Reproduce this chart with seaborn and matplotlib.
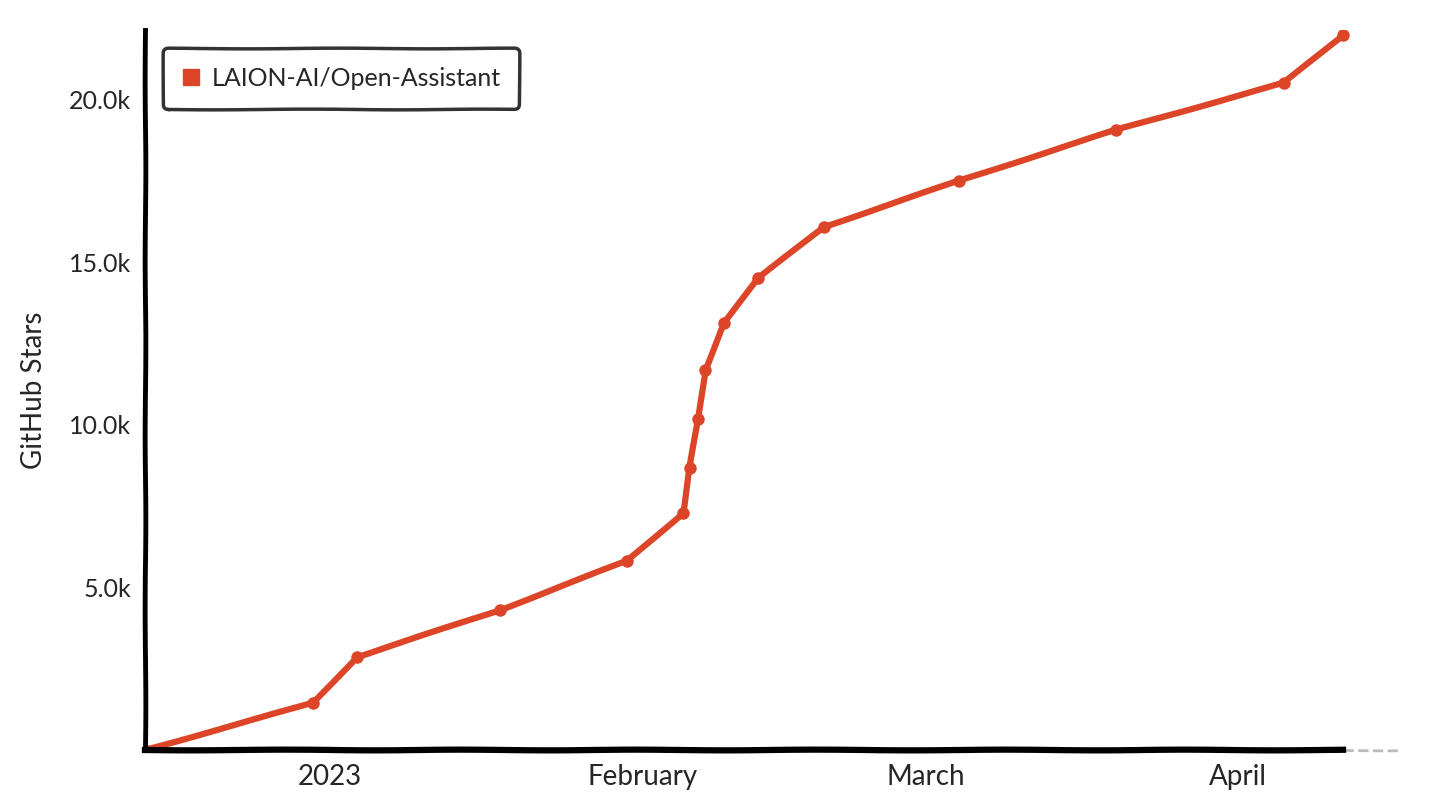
import pandas as pd
import matplotlib.pyplot as plt
import matplotlib.dates as mdates
from matplotlib.lines import Line2D
from matplotlib.ticker import FuncFormatter
import seaborn as sns

# Data
repo = 'LAION-AI/Open-Assistant'
dates = ['2022-12-13 16:00', '2022-12-30 08:00', '2023-01-03 16:00', '2023-01-17 21:00',
         '2023-01-30 10:00', '2023-02-05 00:00', '2023-02-05 15:00', '2023-02-06 12:00',
         '2023-02-07 05:00', '2023-02-09 00:00', '2023-02-12 11:00', '2023-02-18 22:00',
         '2023-03-04 07:00', '2023-03-19 22:00', '2023-04-05 12:00', '2023-04-11 10:00']
stars = [0, 1450, 2860, 4310, 5820, 7290, 8680, 10180, 11690, 13140,
         14520, 16090, 17510, 19080, 20520, 22000]
x_ticks = ['2023-01-01', '2023-02-01', '2023-03-01', '2023-04-01']
x_tick_labels = ['2023', 'February', 'March', 'April']
y_ticks = [5000, 10000, 15000, 20000]

df = pd.DataFrame({'date': pd.to_datetime(dates), 'stars': stars})
line_color = '#dd4528'

sns.set_theme(style='white')
plt.xkcd(scale=0.35, length=200, randomness=2)
plt.rcParams['font.family'] = ['Lato', 'DejaVu Sans']
plt.rcParams['path.effects'] = []

fig = plt.figure(figsize=(14.4, 8), dpi=100)
ax = fig.add_axes([0.1007, 0.0625, 0.8713, 0.9])

sns.lineplot(data=df, x='date', y='stars', marker='o', markersize=9,
             markeredgewidth=0, color=line_color, linewidth=4.5, ax=ax)

x_end = pd.Timestamp('2023-04-17')
ax.set_xlim(df['date'].iloc[0], x_end)
ax.set_ylim(0, 22150)

ax.set_xticks(pd.to_datetime(x_ticks))
ax.set_xticklabels(x_tick_labels)
ax.set_yticks(y_ticks)
ax.yaxis.set_major_formatter(FuncFormatter(lambda v, p: f'{v / 1000:.1f}k'))
ax.tick_params(axis='both', length=0, pad=10)
ax.tick_params(axis='x', labelsize=20)
ax.tick_params(axis='y', labelsize=18)

ax.set_xlabel('')
ax.set_ylabel('GitHub Stars', fontsize=20, labelpad=16)

for side in ['top', 'right']:
    ax.spines[side].set_visible(False)
ax.spines['left'].set_linewidth(3.5)
ax.spines['bottom'].set_linewidth(4.5)
for side in ['left', 'bottom']:
    ax.spines[side].set_color('black')
ax.spines['bottom'].set_bounds(mdates.date2num(df['date'].iloc[0]),
                               mdates.date2num(df['date'].iloc[-1]))
ax.hlines(0, df['date'].iloc[-1], x_end, colors='#bbbbbb', linestyles='--',
          linewidth=2, clip_on=False)

handle = Line2D([], [], marker='s', linestyle='none', markersize=11,
                color=line_color, label=repo)
leg = ax.legend(handles=[handle], loc='upper left', bbox_to_anchor=(0.004, 0.992),
                fontsize=18, frameon=True, fancybox=True, handletextpad=0.4,
                borderpad=0.75, handlelength=0.8)
leg.get_frame().set_edgecolor('black')
leg.get_frame().set_linewidth(2.5)

fig.savefig('out.png', dpi=100)
